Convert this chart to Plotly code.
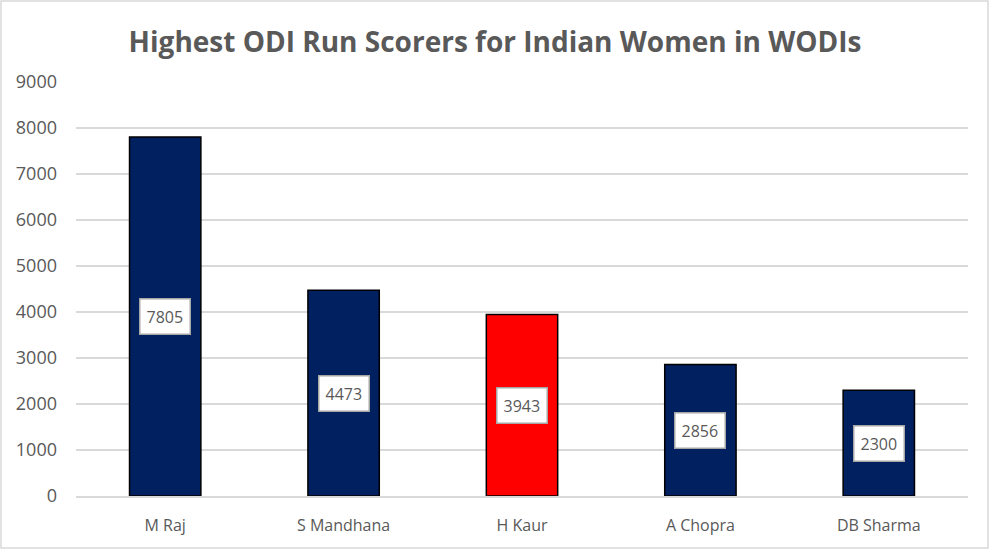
import plotly.graph_objects as go

# data
players = ["M Raj", "S Mandhana", "H Kaur", "A Chopra", "DB Sharma"]
runs = [7805, 4473, 3943, 2856, 2300]
bar_colors = ["#002060", "#002060", "#FF0000", "#002060", "#002060"]
y_ticks = [0, 1000, 2000, 3000, 4000, 5000, 6000, 7000, 8000, 9000]

W, H = 990, 550
L, R, T, B = 76, 22, 82, 54
pw, ph = W - L - R, H - T - B

fig = go.Figure()
fig.add_trace(go.Bar(
    x=players, y=runs,
    marker=dict(color=bar_colors, line=dict(color="#000000", width=1.5)),
    showlegend=False, hoverinfo="x+y",
))

# value labels in white boxes at mid-bar
for p, r in zip(players, runs):
    fig.add_annotation(
        x=p, y=r / 2, text=str(r), showarrow=False,
        font=dict(family="Open Sans, Arial", size=16, color="#595959"),
        bgcolor="#FFFFFF", bordercolor="#A6A6A6", borderwidth=1.5, borderpad=6,
    )

# outer chart border
fig.add_shape(
    type="rect", xref="paper", yref="paper",
    x0=(1 - L) / pw, x1=(W - 2 - L) / pw,
    y0=-(B - 2) / ph, y1=(ph + T - 1) / ph,
    line=dict(color="#D9D9D9", width=1.5), layer="below",
)

fig.update_layout(
    width=W, height=H,
    margin=dict(l=L, r=R, t=T, b=B),
    paper_bgcolor="#FFFFFF", plot_bgcolor="#FFFFFF",
    bargap=0.6,
    title=dict(
        text="<b>Highest ODI Run Scorers for Indian Women in WODIs</b>",
        x=0.5, xanchor="center", y=1 - 42 / H, yanchor="middle",
        font=dict(family="Open Sans, Arial", size=28, color="#595959"),
    ),
    font=dict(family="Open Sans, Arial", color="#595959"),
)
fig.update_yaxes(
    range=[0, 9000], tickvals=y_ticks, showgrid=True, gridcolor="#D9D9D9",
    gridwidth=1.5, zeroline=False, showline=False, ticks="",
    tickfont=dict(size=18, color="#595959"), ticklabelstandoff=18,
)
fig.update_xaxes(
    showline=True, linecolor="#D9D9D9", linewidth=1.5, ticks="",
    tickfont=dict(size=16, color="#595959"), ticklabelstandoff=14,
)

fig.write_html("out.html", config={"displayModeBar": False},
               post_script="document.body.style.margin='0';")
